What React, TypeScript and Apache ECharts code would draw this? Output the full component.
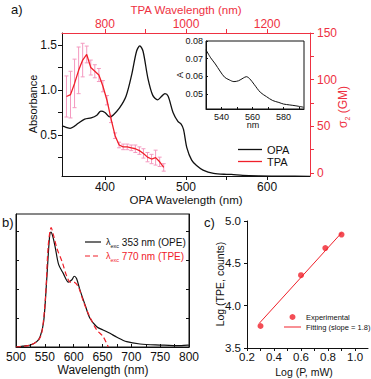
import React, { useEffect, useRef } from 'react';
import * as echarts from 'echarts';

const RED = '#f0202a';
const AXRED = '#ee3142';
const PINK = '#f49ac0';
const BLACK = '#111111';
const FONT = 'Liberation Sans, Arial, sans-serif';

// ---- Panel a: one-photon absorption (OPA) ----
const opaWavelength = [347, 352, 357, 362, 367, 375, 383, 390, 395, 400, 406, 410, 418, 426, 433, 439, 443, 447, 453, 459, 465, 470, 474, 478, 484, 490, 494, 497, 501, 507, 513, 521, 534, 550, 556, 570, 590, 620, 653];
const opaAbsorbance = [0.6, 0.585, 0.574, 0.595, 0.63, 0.675, 0.69, 0.72, 0.765, 0.75, 0.7, 0.72, 0.8, 0.93, 1.17, 1.43, 1.49, 1.43, 1.13, 0.94, 0.89, 0.93, 0.96, 0.93, 0.75, 0.65, 0.62, 0.56, 0.36, 0.22, 0.16, 0.11, 0.074, 0.062, 0.061, 0.05, 0.045, 0.042, 0.04];

// ---- Panel a: two-photon absorption (TPA) ----
const tpaWavelength = [705, 715, 725, 735, 745, 755, 765, 775, 785, 795, 805, 815, 825, 835, 845, 855, 865, 875, 885, 895, 905, 915, 925, 935, 945];
const tpaCrossSection = [82, 84, 96, 110, 121, 127, 113, 109, 105, 93, 78, 58, 40, 30, 28, 28, 27, 26, 24, 21, 17, 15, 16.5, 12, 6];
const tpaError = [22, 25, 26, 25, 18, 9, 8, 7, 7, 6, 5, 4, 3, 3, 3, 3, 3, 4, 4, 5, 5, 5, 8, 5, 4];

// ---- Panel a inset ----
const insetWavelength = [530, 533, 536, 539, 542, 545, 548, 551, 554, 556, 558, 561, 565, 569, 573, 577, 580, 584, 588, 593];
const insetAbsorbance = [0.075, 0.0705, 0.067, 0.063, 0.0595, 0.058, 0.057, 0.0575, 0.059, 0.0598, 0.0588, 0.0555, 0.051, 0.0485, 0.0463, 0.0452, 0.0443, 0.0438, 0.0433, 0.0425];

// ---- Panel b: emission spectra ----
const opeWavelength = [500, 512, 525, 536, 542, 548, 553, 558, 560.5, 564, 568, 574, 582, 591, 597, 601, 605, 611, 620, 628, 640, 651, 663, 675, 692, 715, 750, 784, 798, 800];
const opeIntensity = [0, 0.008, 0.017, 0.046, 0.09, 0.22, 0.56, 0.94, 0.99, 0.95, 0.86, 0.71, 0.635, 0.56, 0.58, 0.61, 0.59, 0.49, 0.36, 0.25, 0.175, 0.147, 0.118, 0.084, 0.046, 0.026, 0.017, 0.011, 0.017, 0.015];
const tpeWavelength = [500, 525, 539, 545, 551, 556, 561, 565, 571, 580, 588, 594, 600, 608, 617, 628, 640, 651, 660];
const tpeIntensity = [0, 0.017, 0.06, 0.13, 0.42, 0.88, 1.03, 0.965, 0.85, 0.735, 0.61, 0.56, 0.56, 0.52, 0.39, 0.26, 0.147, 0.09, 0];

// ---- Panel c: power dependence ----
const logPower = [0.3, 0.6, 0.78, 0.9];
const logCounts = [3.76, 4.36, 4.68, 4.84];
const fitLogPower = [0.29, 0.9];
const fitLogCounts = [3.79, 4.86];

// ---- tick values / labels ----
const opaTicks = [400, 450, 500, 550, 600];
const opaLabels = [400, 500, 600];
const tpaTicks = [800, 900, 1000, 1100, 1200];
const tpaLabels = [800, 1000, 1200];
const absTicks = [0.25, 0.5, 0.75, 1.0, 1.25, 1.5];
const absLabels = [0.5, 1.0, 1.5];
const gmTicks = [0, 25, 50, 75, 100, 125, 150];
const gmLabels = [0, 50, 100, 150];
const insetXTicks = [540, 550, 560, 570, 580, 590];
const insetXLabels = [540, 560, 580];
const insetYLabels = [0.05, 0.06, 0.07, 0.08];
const bXTicks = [525, 550, 575, 600, 625, 650, 675, 700, 725, 750, 775];
const bXLabels = [500, 550, 600, 650, 700, 750, 800];
const bYTicks = [0.25, 0.5, 0.75, 1.0];
const cXTicks = [0.2, 0.3, 0.4, 0.5, 0.6, 0.7, 0.8, 0.9, 1.0, 1.1];
const cXLabels = [0.2, 0.4, 0.6, 0.8, 1.0];
const cYLabels = [3.5, 4.0, 4.5, 5.0];

const zip = (a: number[], b: number[]) => a.map((v, i) => [v, b[i]]);
const plain = (v: number) => String(v);

function valueAxis(o: any) {
  const color = o.color || BLACK;
  return {
    type: 'value',
    gridIndex: o.grid,
    position: o.position,
    min: o.min,
    max: o.max,
    axisLine: { show: true, onZero: false, lineStyle: { color, width: 1 } },
    axisTick: {
      show: !!o.ticks,
      inside: !!o.inside,
      length: o.tickLen || 4,
      customValues: o.ticks,
      lineStyle: { color, width: 1 },
    },
    axisLabel: {
      show: !!o.labels,
      customValues: o.labels,
      margin: o.margin ?? 5,
      fontSize: o.fontSize || 12,
      color,
      fontFamily: FONT,
      formatter: o.fmt || plain,
    },
    splitLine: { show: false },
    minorTick: { show: false },
  };
}

function txt(x: number, y: number, text: string, size: number, opts: any = {}) {
  return {
    type: 'text',
    x,
    y,
    rotation: opts.rot ? Math.PI / 2 : 0,
    silent: true,
    style: {
      text,
      fill: opts.color || BLACK,
      font: `${size}px ${FONT}`,
      align: opts.align || 'center',
      verticalAlign: 'middle',
      rich: opts.rich,
    },
  };
}

const LINE24 = 'path://M0,0H24V1.3H0Z';
const LINE16 = 'path://M0,0H16V1.2H0Z';
const DASH16 = 'path://M0,0H5V1.2H0Z M8,0H13V1.2H8Z M16,0H16.01V1.2H16Z';
const LINE17 = 'path://M0,0H17V1H0Z';

export default function App() {
  const ref = useRef<HTMLDivElement>(null);
  useEffect(() => {
    if (!ref.current) return;
    const chart = echarts.init(ref.current, undefined, { renderer: 'svg' });
    const option: any = {
      animation: false,
      backgroundColor: '#ffffff',
      textStyle: { fontFamily: FONT },
      grid: [
        { left: 62, top: 33, width: 248, height: 143, containLabel: false },
        { left: 206, top: 41, width: 98, height: 68, show: true, borderColor: BLACK, borderWidth: 1, backgroundColor: '#fff' },
        { left: 16, top: 214, width: 173, height: 133, show: true, borderColor: BLACK, borderWidth: 1 },
        { left: 247, top: 221, width: 121, height: 127 },
      ],
      xAxis: [
        valueAxis({ grid: 0, position: 'bottom', min: 347, max: 653, ticks: opaTicks, labels: opaLabels, margin: 5 }),
        valueAxis({ grid: 0, position: 'top', min: 694, max: 1306, ticks: tpaTicks, labels: tpaLabels, color: AXRED, margin: 3 }),
        valueAxis({ grid: 1, position: 'bottom', min: 530, max: 593.2, ticks: insetXTicks, labels: insetXLabels, inside: true, tickLen: 2, fontSize: 9, margin: 3 }),
        valueAxis({ grid: 2, position: 'bottom', min: 500, max: 800, ticks: bXTicks, labels: bXLabels, inside: true, tickLen: 3, margin: 4 }),
        valueAxis({ grid: 3, position: 'bottom', min: 0.2, max: 1.096, ticks: cXTicks, labels: cXLabels, tickLen: 3, fontSize: 11.5, margin: 3, fmt: (v: number) => v.toFixed(1) }),
      ],
      yAxis: [
        valueAxis({ grid: 0, position: 'left', min: 0.044, max: 1.633, ticks: absTicks, labels: absLabels, margin: 5, fmt: (v: number) => v.toFixed(1) }),
        valueAxis({ grid: 0, position: 'right', min: -3.2, max: 150, ticks: gmTicks, labels: gmLabels, color: AXRED, margin: 7 }),
        valueAxis({ grid: 1, position: 'left', min: 0.0415, max: 0.08, ticks: insetYLabels, labels: insetYLabels, inside: true, tickLen: 2, fontSize: 9, margin: 3, fmt: (v: number) => v.toFixed(2) }),
        valueAxis({ grid: 2, position: 'left', min: 0, max: 1.147, ticks: bYTicks, inside: true, tickLen: 3 }),
        valueAxis({ grid: 2, position: 'right', min: 0, max: 1.147, ticks: bYTicks, inside: true, tickLen: 3 }),
        valueAxis({ grid: 3, position: 'left', min: 3.5, max: 5.0, ticks: cYLabels, labels: cYLabels, tickLen: 3, fontSize: 11.5, margin: 6, fmt: (v: number) => v.toFixed(1) }),
      ],
      legend: [
        {
          data: [
            { name: 'OPA', icon: LINE24 },
            { name: 'TPA', icon: LINE24 },
          ],
          orient: 'vertical', left: 233, top: 139,
          itemWidth: 24, itemHeight: 10, itemGap: 1, selectedMode: false,
          textStyle: { fontSize: 11, color: BLACK, fontFamily: FONT },
        },
        {
          data: [
            { name: 'OPE', icon: LINE16 },
            { name: 'TPE', icon: DASH16 },
          ],
          orient: 'vertical', left: 80, top: 232, itemWidth: 16, itemHeight: 10, itemGap: 2, selectedMode: false,
          formatter: (n: string) => (n === 'OPE' ? '{l|λ}{s|exc}{t| 353 nm (OPE)}' : '{lr|λ}{sr|exc}{tr| 770 nm (TPE)}'),
          textStyle: {
            fontFamily: FONT,
            fontSize: 10,
            rich: {
              l: { fontSize: 9, color: BLACK, fontFamily: FONT, lineHeight: 14, verticalAlign: 'middle' },
              s: { fontSize: 5.5, color: BLACK, fontFamily: FONT, lineHeight: 14, verticalAlign: 'bottom' },
              t: { fontSize: 10, color: BLACK, fontFamily: FONT, lineHeight: 14, verticalAlign: 'middle' },
              lr: { fontSize: 9, color: RED, fontFamily: FONT, lineHeight: 14, verticalAlign: 'middle' },
              sr: { fontSize: 5.5, color: RED, fontFamily: FONT, lineHeight: 14, verticalAlign: 'bottom' },
              tr: { fontSize: 10, color: RED, fontFamily: FONT, lineHeight: 14, verticalAlign: 'middle' },
            },
          },
        },
        {
          data: [
            { name: 'Experimental', icon: 'circle' },
            { name: 'Fitting (slope = 1.8)', icon: LINE17 },
          ],
          orient: 'vertical', left: 279, top: 308,
          itemWidth: 17, itemHeight: 6, itemGap: 2, selectedMode: false,
          textStyle: { fontSize: 7.5, color: BLACK, fontFamily: FONT },
        },
      ],
      series: [
        {
          name: 'OPA', type: 'line', xAxisIndex: 0, yAxisIndex: 0, data: zip(opaWavelength, opaAbsorbance),
          symbol: 'none', smooth: 0.3, lineStyle: { color: BLACK, width: 1.3 }, itemStyle: { color: BLACK }, z: 3,
        },
        {
          name: 'TPA-err', type: 'custom', xAxisIndex: 1, yAxisIndex: 1, silent: true, z: 2,
          data: tpaWavelength.map((w, i) => [w, tpaCrossSection[i], tpaError[i]]),
          encode: { x: 0, y: 1 },
          renderItem: (_p: any, api: any) => {
            const x = api.value(0), y = api.value(1), e = api.value(2);
            const hi = api.coord([x, y + e]);
            const lo = api.coord([x, y - e]);
            const cw = 2;
            const style = { stroke: PINK, lineWidth: 1 };
            return {
              type: 'group',
              children: [
                { type: 'line', shape: { x1: hi[0], y1: hi[1], x2: lo[0], y2: lo[1] }, style },
                { type: 'line', shape: { x1: hi[0] - cw, y1: hi[1], x2: hi[0] + cw, y2: hi[1] }, style },
                { type: 'line', shape: { x1: lo[0] - cw, y1: lo[1], x2: lo[0] + cw, y2: lo[1] }, style },
              ],
            };
          },
        },
        {
          name: 'TPA', type: 'line', xAxisIndex: 1, yAxisIndex: 1, data: zip(tpaWavelength, tpaCrossSection),
          symbol: 'none', lineStyle: { color: RED, width: 1.3 }, itemStyle: { color: RED }, z: 4,
        },
        {
          name: 'inset', type: 'line', xAxisIndex: 2, yAxisIndex: 2, data: zip(insetWavelength, insetAbsorbance),
          symbol: 'none', smooth: 0.3, lineStyle: { color: BLACK, width: 1 }, z: 5,
        },
        {
          name: 'OPE', type: 'line', xAxisIndex: 3, yAxisIndex: 3, data: zip(opeWavelength, opeIntensity),
          symbol: 'none', smooth: 0.3, lineStyle: { color: BLACK, width: 1.2 }, itemStyle: { color: BLACK },
        },
        {
          name: 'TPE', type: 'line', xAxisIndex: 3, yAxisIndex: 3, data: zip(tpeWavelength, tpeIntensity),
          symbol: 'none', smooth: 0.3, lineStyle: { color: RED, width: 1.2, type: [5, 3] }, itemStyle: { color: RED },
        },
        {
          name: 'Experimental', type: 'scatter', xAxisIndex: 4, yAxisIndex: 5, data: zip(logPower, logCounts),
          symbol: 'circle', symbolSize: 6, itemStyle: { color: RED }, z: 4,
        },
        {
          name: 'Fitting (slope = 1.8)', type: 'line', xAxisIndex: 4, yAxisIndex: 5, data: zip(fitLogPower, fitLogCounts),
          symbol: 'none', lineStyle: { color: RED, width: 1 }, itemStyle: { color: RED }, z: 3,
        },
      ],
      graphic: [
        txt(11, 9, 'a)', 13, { align: 'left' }),
        txt(186, 10, 'TPA Wavelength (nm)', 11.5, { color: AXRED }),
        txt(186, 200, 'OPA Wavelength (nm)', 11.5),
        txt(33, 104, 'Absorbance', 11, { rot: true }),
        txt(343, 107, '{a|σ}{b|2}{a| (GM)}', 12, {
          rot: true, color: AXRED,
          rich: {
            a: { fontSize: 12, fill: AXRED, fontFamily: FONT, lineHeight: 15, verticalAlign: 'middle' },
            b: { fontSize: 7, fill: AXRED, fontFamily: FONT, lineHeight: 15, verticalAlign: 'bottom' },
          },
        }),
        txt(180, 75, 'A', 9, { rot: true }),
        txt(253, 125, 'nm', 9),
        txt(2, 222, 'b)', 13, { align: 'left' }),
        txt(103, 370, 'Wavelength (nm)', 12),
        txt(204, 222, 'c)', 13, { align: 'left' }),
        txt(220, 284, 'Log (TPE, counts)', 10.5, { rot: true }),
        txt(304, 372, 'Log (P, mW)', 10.5),
      ],
    };
    chart.setOption(option);
    return () => chart.dispose();
  }, []);
  return (
    <div
      ref={ref}
      style={{ position: 'absolute', left: 0, top: 0, width: 371, height: 379, background: '#fff' }}
    />
  );
}
